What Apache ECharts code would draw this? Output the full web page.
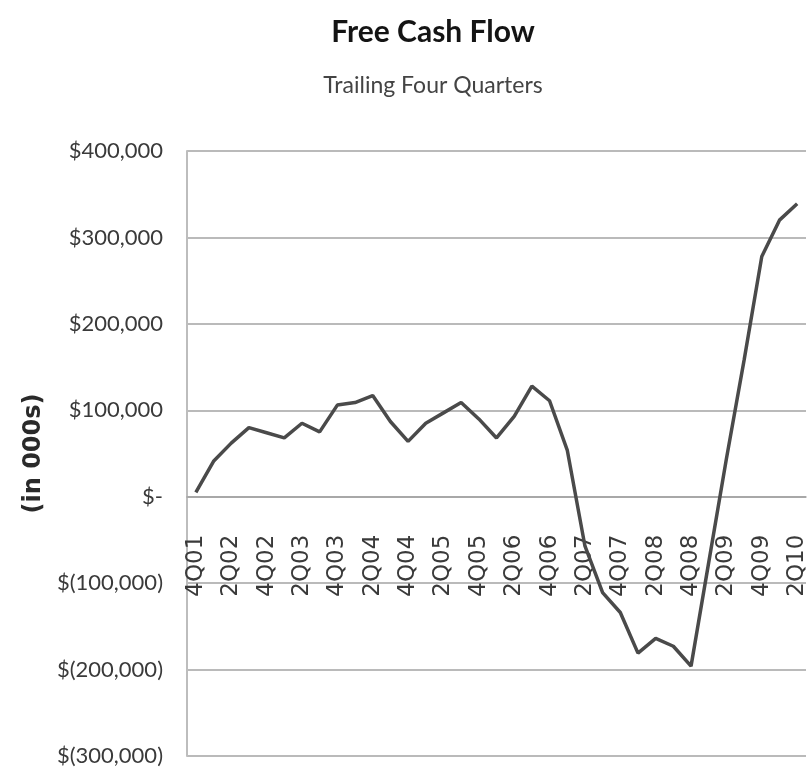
<!DOCTYPE html>
<html>
<head>
<meta charset="utf-8">
<script src="https://cdn.jsdelivr.net/npm/echarts@6/dist/echarts.min.js"></script>
<style>
html,body{margin:0;padding:0;background:#ffffff;}
#chart{width:812px;height:775px;}
</style>
</head>
<body>
<div id="chart"></div>
<script>
const titleText = 'Free Cash Flow';
const subtitleText = 'Trailing Four Quarters';
const yAxisName = '(in 000s)';

const categories = ['4Q01','1Q02','2Q02','3Q02','4Q02','1Q03','2Q03','3Q03','4Q03',
  '1Q04','2Q04','3Q04','4Q04','1Q05','2Q05','3Q05','4Q05','1Q06','2Q06','3Q06','4Q06',
  '1Q07','2Q07','3Q07','4Q07','1Q08','2Q08','3Q08','4Q08','1Q09','2Q09','3Q09','4Q09',
  '1Q10','2Q10'];

const freeCashFlow = [5000, 41000, 62000, 80000, 74000, 68000, 85000, 75000, 106000,
  109000, 117000, 87000, 64000, 85000, 97000, 109000, 90000, 68000, 93000, 128000, 111000,
  54000, -57000, -111000, -134000, -181000, -164000, -173000, -196000, -76000, 44000, 158000, 278000,
  320000, 339000];

const yMin = -300000, yMax = 400000, yStep = 100000;

function fmtAccounting(v) {
  if (v === 0) return '$-';
  const s = Math.abs(v).toLocaleString('en-US');
  return v < 0 ? '$(' + s + ')' : '$' + s;
}

const gridTop = 151, gridBottom = 19, chartH = 775;
const plotH = chartH - gridTop - gridBottom;
// distance from plot bottom to the zero line, derived from the y scale
const zeroFromBottom = plotH * (0 - yMin) / (yMax - yMin);

const chart = echarts.init(document.getElementById('chart'), null, {renderer: 'canvas'});
chart.setOption({
  backgroundColor: '#ffffff',
  animation: false,
  graphic: [
    {type: 'text', x: 433, y: 32, style: {text: titleText, align: 'center', verticalAlign: 'middle',
      font: 'bold 30px Lato, sans-serif', fill: '#141414'}},
    {type: 'text', x: 433, y: 86, style: {text: subtitleText, align: 'center', verticalAlign: 'middle',
      font: '23px Lato, sans-serif', fill: '#444444'}}
  ],
  grid: {left: 187, right: 6, top: gridTop, bottom: gridBottom, containLabel: false, outerBoundsMode: 'none'},
  xAxis: {
    type: 'category',
    data: categories,
    boundaryGap: true,
    offset: -zeroFromBottom,
    axisLine: {show: true, onZero: false, lineStyle: {color: '#a3a3a3', width: 1.5}},
    axisTick: {show: false},
    splitLine: {show: false},
    axisLabel: {
      interval: 1,
      rotate: 90,
      margin: 38,
      padding: [6, 0, 0, 0],
      fontFamily: '"DejaVu Sans", sans-serif',
      fontSize: 23,
      color: '#3a3a3a'
    }
  },
  yAxis: {
    type: 'value',
    min: yMin, max: yMax, interval: yStep,
    name: yAxisName,
    nameLocation: 'middle',
    nameRotate: 90,
    nameGap: 135,
    nameTextStyle: {fontFamily: '"DejaVu Sans", sans-serif', fontWeight: 'bold', fontSize: 24, color: '#2a2a2a'},
    axisLine: {show: true, lineStyle: {color: '#bdbdbd', width: 2}},
    axisTick: {show: false},
    splitLine: {show: true, lineStyle: {color: '#a3a3a3', width: 1.5}},
    axisLabel: {
      margin: 24,
      formatter: fmtAccounting,
      fontFamily: 'Lato, sans-serif',
      fontSize: 22,
      color: '#3a3a3a'
    }
  },
  series: [{
    type: 'line',
    data: freeCashFlow,
    symbol: 'none',
    smooth: false,
    lineStyle: {color: '#4a4a4a', width: 3.5},
    z: 5
  }]
});
</script>
</body>
</html>
